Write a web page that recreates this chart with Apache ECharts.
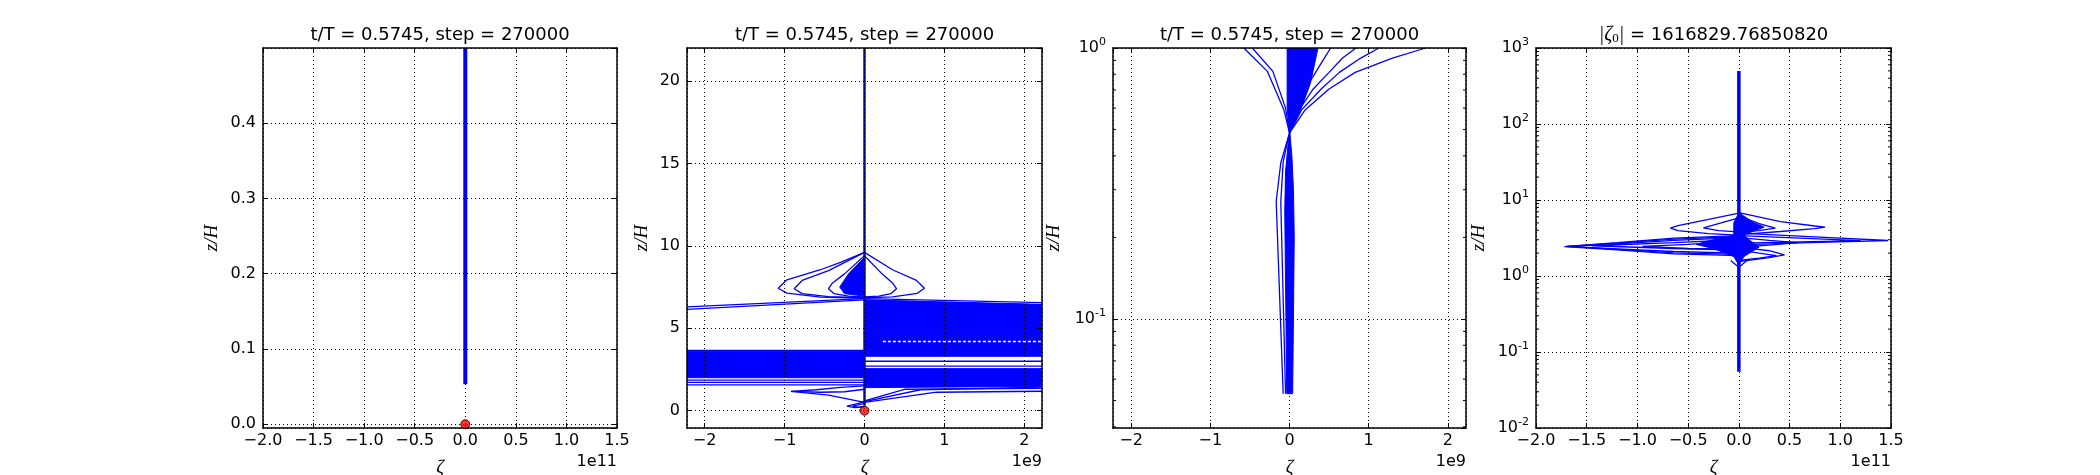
<!DOCTYPE html>
<html>
<head>
<meta charset="utf-8">
<title>zeta profiles</title>
<style>
  html, body { margin: 0; padding: 0; background: #fff; }
  #chart { width: 2100px; height: 475px; }
</style>
</head>
<body>
<div id="chart"></div>
<script src="https://cdn.jsdelivr.net/npm/echarts@6/dist/echarts.min.js"></script>
<script>
// texts
const stepTitle = 't/T = 0.5745, step = 270000';
const zetaTitle = '{m||ζ}{s|0}{m||} = 1616829.76850820';
const titles = [stepTitle, stepTitle, stepTitle, zetaTitle];
const offsetTexts = ['1e11', '1e9', '1e9', '1e11'];

// axis ranges (x in units of the offset text)
const p1XRange = [-2.0, 1.5], p1YRange = [-0.005, 0.5];
const p2XRange = [-2.22, 2.22], p2YRange = [-1.05, 22];
const p3XRange = [-2.23, 2.23], p3YRange = [0.0396, 1];
const p4XRange = [-2.0, 1.5], p4YRange = [0.01, 1000];

// minor ticks on the log axes
const minorMantissas = [2, 3, 4, 5, 6, 7, 8, 9];
const p3MinorDecades = [-2, -1];
const p4MinorDecades = [-2, -1, 0, 1, 2];

// panel 1
const p1Thick = [[[0, 0.053], [0, 0.5]]];
const p1Dot = [[0, 0]];

// panel 2
const p2Thick = [[[0, 0.3], [0, 22]]];
const p2Thin = [
  [[0, 9.6], [-0.3, 9.0], [-0.55, 8.55], [-0.97, 7.94], [-1.08, 7.43], [-0.97, 7.13], [-0.55, 6.89], [0, 6.82]],
  [[0, 9.6], [-0.45, 8.5], [-0.78, 7.9], [-0.88, 7.4], [-0.78, 7.1], [-0.45, 6.92], [0, 6.85]],
  [[0, 9.4], [-0.25, 8.3], [-0.4, 7.75], [-0.45, 7.4], [-0.38, 7.1], [-0.2, 6.95], [0, 6.9]],
  [[0, 9.4], [0.22, 8.3], [0.35, 7.75], [0.4, 7.4], [0.33, 7.1], [0.18, 6.95], [0, 6.9]],
  [[0, 9.6], [0.35, 8.55], [0.65, 7.9], [0.75, 7.43], [0.66, 7.12], [0.35, 6.9], [0, 6.85]],
  [[-2.22, 6.15], [0, 6.72]],
  [[-2.22, 6.3], [0, 6.8]],
  [[0, 6.8], [2.22, 6.55]],
  [[0, 6.72], [2.22, 6.42]],
  [[0, 3.0], [2.22, 3.0]],
  [[0, 2.7], [2.22, 2.7]],
  [[-2.22, 3.66], [0, 3.66]],
  [[-2.22, 1.85], [0, 1.85]],
  [[-2.22, 1.72], [0, 1.72]],
  [[-2.22, 1.56], [0, 1.56]],
  [[0, 0.55], [0.7, 1.27], [2.22, 1.43]],
  [[0, 0.5], [0.9, 1.12], [2.22, 1.18]],
  [[0, 0.6], [0.5, 1.3], [2.22, 1.35]],
  [[0, 0.5], [-0.45, 0.95], [-0.92, 1.17], [-0.6, 1.27], [-0.3, 1.42], [0, 1.5]],
  [[-0.92, 1.17], [-0.55, 1.12], [-0.25, 1.15], [0, 1.3]],
  [[0, 0.55], [-0.1, 0.42], [-0.22, 0.28], [-0.12, 0.18], [0, 0.25]],
  [[0, 0.45], [-0.08, 0.35], [-0.15, 0.27], [-0.07, 0.2], [0, 0.25]]
];
const p2Fills = [
  [[0, 9.3], [-0.2, 8.3], [-0.31, 7.5], [-0.25, 7.1], [0, 6.95]],
  [[0, 6.7], [2.22, 6.45], [2.22, 3.3], [0, 3.3]],
  [[0, 2.55], [2.22, 2.55], [2.22, 1.47], [0, 1.4]],
  [[-2.22, 3.6], [0, 3.6], [0, 2.0], [-2.22, 2.0]]
];
const p2White = [[0.23, 4.2], [2.22, 4.2]];
const p2Dot = [[0, 0]];

// panel 3
const p3Thin = [
  [[0, 0.486], [-0.11, 0.377], [-0.168, 0.272], [-0.08, 0.053]],
  [[0, 0.486], [-0.08, 0.38], [-0.11, 0.27], [-0.05, 0.053]],
  [[0, 0.486], [-0.07, 0.59], [-0.28, 0.82], [-0.577, 1]],
  [[0, 0.486], [-0.05, 0.6], [-0.21, 0.82], [-0.47, 1]],
  [[0, 0.486], [0.2, 0.592], [0.5, 0.706], [0.83, 0.813], [1.3, 0.918], [1.72, 1]],
  [[0, 0.486], [0.15, 0.59], [0.4, 0.706], [0.63, 0.813], [0.9, 0.918], [1.13, 1]],
  [[0, 0.486], [0.12, 0.59], [0.3, 0.706], [0.5, 0.813], [0.67, 0.918], [0.84, 1]],
  [[0, 0.486], [0.08, 0.59], [0.2, 0.706], [0.33, 0.813], [0.44, 0.918], [0.52, 1]]
];
const p3Fills = [
  [[-0.035, 0.053], [0.04, 0.053], [0.06, 0.2], [0.05, 0.3], [0.03, 0.4], [0.005, 0.486],
   [-0.015, 0.45], [-0.05, 0.35], [-0.06, 0.25], [-0.045, 0.1]],
  [[0, 0.486], [0.14, 0.59], [0.265, 0.743], [0.36, 1], [-0.03, 1], [-0.03, 0.6]]
];

// panel 4
const p4Thick = [[[0, 0.055], [0, 500]]];
const p4Thin = [
  [[0, 3.4], [-0.64, 3.15], [-1.2, 2.75], [-1.72, 2.44], [-1.2, 2.2], [-0.64, 1.95], [0, 1.85]],
  [[0, 3.3], [-0.64, 3.05], [-1.2, 2.7], [-1.7, 2.45], [-1.2, 2.24], [-0.64, 2.02], [0, 1.92]],
  [[0, 3.2], [-0.64, 2.95], [-1.2, 2.65], [-1.68, 2.45], [-1.2, 2.28], [-0.64, 2.1], [0, 2.0]],
  [[0, 3.0], [-0.64, 2.75], [-1.45, 2.5], [-0.64, 2.3], [0, 2.2]],
  [[0, 2.9], [-0.5, 2.6], [-0.95, 2.45], [-0.5, 2.3], [0, 2.25]],
  [[0, 6.7], [-0.31, 5.5], [-0.6, 4.6], [-0.675, 4.27], [-0.6, 3.95], [-0.3, 3.6], [0, 3.45]],
  [[0, 5.8], [-0.2, 4.9], [-0.35, 4.3], [-0.2, 3.95], [0, 3.8]],
  [[0, 6.8], [0.41, 5.2], [0.75, 4.55], [0.85, 4.4], [0.75, 4.2], [0.41, 3.85], [0, 3.5]],
  [[0, 6.2], [0.2, 4.9], [0.36, 4.27], [0.2, 3.95], [0, 3.8]],
  [[0, 3.66], [0.7, 3.3], [1.47, 2.93], [0.7, 2.75], [0, 2.57]],
  [[0, 3.4], [0.6, 3.15], [1.2, 2.92], [0.6, 2.8], [0, 2.7]],
  [[0, 3.2], [0.3, 2.95], [0.58, 2.75], [0.3, 2.55], [0, 2.4]],
  [[0, 2.4], [0.3, 2.15], [0.45, 1.9], [0.3, 1.75], [0, 1.55]],
  [[0, 2.2], [0.2, 2.0], [0.37, 1.85], [0.2, 1.72], [0, 1.6]],
  [[-0.08, 1.6], [0, 1.3], [0.08, 1.6]]
];
const p4Fills = [
  [[0, 6.8], [0.15, 5.0], [0.25, 4.4], [0.15, 3.9], [0.05, 3.5], [0.1, 3.0], [0.2, 2.4], [0.05, 1.8],
   [0, 1.4], [-0.05, 1.8], [-0.25, 2.3], [-0.42, 2.6], [-0.3, 2.9], [-0.05, 3.4], [-0.05, 5.0]]
];

const BLUE = '#0000ff';
const FONT = 'DejaVu Sans';
const MATH = 'Liberation Serif';

function minus(s) { return s.replace('-', '\u2212'); }
function fmtFixed(d) { return v => minus((Math.abs(v) < 1e-9 ? 0 : v).toFixed(d)); }
function fmtLog(v) { return '10{sup|' + Math.round(Math.log10(v)) + '}'; }
function minorTicks(decades) {
  const out = [];
  decades.forEach(e => minorMantissas.forEach(m => out.push(m * Math.pow(10, e))));
  return out;
}

const boxes = [[263, 48, 354, 380], [687, 48, 355, 380], [1113, 48, 353, 380], [1536, 48, 355, 380]];
const panels = [
  { x: p1XRange, xInt: 0.5, xFmt: fmtFixed(1), xEnds: [true, true], y: p1YRange, yFmt: fmtFixed(1), yEnds: [false, false],
    log: false, thick: p1Thick, thickW: 4, thin: [], fills: [], dots: p1Dot, yGap: 42 },
  { x: p2XRange, xFmt: fmtFixed(0), xEnds: [false, false], y: p2YRange, yFmt: fmtFixed(0), yEnds: [false, false],
    log: false, thick: p2Thick, thickW: 2.5, thin: p2Thin, fills: p2Fills, dots: p2Dot, white: p2White, yGap: 36 },
  { x: p3XRange, xFmt: fmtFixed(0), xEnds: [false, false], y: p3YRange, yFmt: fmtLog, yEnds: [false, true],
    log: true, minor: minorTicks(p3MinorDecades).filter(v => v > p3YRange[0] && v < p3YRange[1]),
    thick: [], thin: p3Thin, fills: p3Fills, dots: [], yGap: 50 },
  { x: p4XRange, xInt: 0.5, xFmt: fmtFixed(1), xEnds: [true, true], y: p4YRange, yFmt: fmtLog, yEnds: [true, true],
    log: true, minor: minorTicks(p4MinorDecades), thick: p4Thick, thickW: 3.5, thin: p4Thin, fills: p4Fills, dots: [], yGap: 48 }
];

const grid = [], xAxis = [], yAxis = [], series = [], graphic = [];
const axLine = { show: true, onZero: false, lineStyle: { color: '#000', width: 1.5 } };
const axTick = { show: true, inside: true, length: 5, lineStyle: { color: '#000', width: 1 } };
const split = { show: true, lineStyle: { color: '#000', width: 1, type: [1, 3] } };
const lab = { color: '#000', fontFamily: FONT, fontSize: 16 };
const labLog = Object.assign({}, lab, {
  rich: { sup: { fontFamily: FONT, fontSize: 11, color: '#000', padding: [0, 0, 11, 0] } }
});
const mathName = { fontFamily: MATH, fontStyle: 'italic', fontSize: 19, color: '#000' };

panels.forEach((p, i) => {
  const [l, t, w, h] = boxes[i];
  grid.push({ left: l, top: t, width: w, height: h, outerBoundsMode: 'none', containLabel: false });

  const xBase = { gridIndex: i, type: 'value', min: p.x[0], max: p.x[1], z: 5, axisLine: axLine, axisTick: axTick };
  if (p.xInt) xBase.interval = p.xInt;
  xAxis.push(Object.assign({}, xBase, {
    position: 'bottom', splitLine: split,
    axisLabel: Object.assign({ margin: 5, formatter: p.xFmt, showMinLabel: p.xEnds[0], showMaxLabel: p.xEnds[1] }, lab),
    name: 'ζ', nameLocation: 'middle', nameGap: 30, nameMoveOverlap: false, nameTextStyle: mathName
  }));
  xAxis.push(Object.assign({}, xBase, { position: 'top', splitLine: { show: false }, axisLabel: { show: false } }));

  const yBase = { gridIndex: i, type: p.log ? 'log' : 'value', min: p.y[0], max: p.y[1], z: 5, axisLine: axLine, axisTick: axTick };
  if (p.log) yBase.logBase = 10;
  yAxis.push(Object.assign({}, yBase, {
    position: 'left', splitLine: split,
    axisLabel: Object.assign({ margin: 7, formatter: p.yFmt, showMinLabel: p.yEnds[0], showMaxLabel: p.yEnds[1] }, p.log ? labLog : lab),
    name: 'z/H', nameLocation: 'middle', nameRotate: 90, nameGap: p.yGap, nameMoveOverlap: false, nameTextStyle: mathName
  }));
  yAxis.push(Object.assign({}, yBase, { position: 'right', splitLine: { show: false }, axisLabel: { show: false } }));

  const ax = { xAxisIndex: 2 * i, yAxisIndex: 2 * i };
  p.fills.forEach(poly => series.push(Object.assign({
    type: 'custom', coordinateSystem: 'cartesian2d', data: [poly[0]], clip: true, silent: true, z: 2,
    renderItem: (params, api) => ({
      type: 'polygon', shape: { points: poly.map(q => api.coord(q)) },
      style: { fill: BLUE, stroke: BLUE, lineWidth: 1 }
    })
  }, ax)));
  p.thin.forEach(d => series.push(Object.assign({
    type: 'line', data: d, symbol: 'none', clip: true, silent: true, z: 3,
    lineStyle: { color: BLUE, width: 1.3 }
  }, ax)));
  p.thick.forEach(d => series.push(Object.assign({
    type: 'line', data: d, symbol: 'none', clip: true, silent: true, z: 3,
    lineStyle: { color: BLUE, width: p.thickW }
  }, ax)));
  if (p.white) series.push(Object.assign({
    type: 'line', data: p.white, symbol: 'none', clip: true, silent: true, z: 4,
    lineStyle: { color: '#fff', width: 1.5, type: [3, 2] }
  }, ax));
  if (p.dots.length) series.push(Object.assign({
    type: 'scatter', data: p.dots, symbol: 'circle', symbolSize: 9, clip: false, silent: true, z: 10,
    itemStyle: { color: '#ff0000', borderColor: '#000', borderWidth: 1 }
  }, ax));
  if (p.minor) series.push(Object.assign({
    type: 'custom', coordinateSystem: 'cartesian2d', data: p.minor.map(v => [0, v]), silent: true, z: 6,
    renderItem: (params, api) => {
      const cs = params.coordSys;
      const y = api.coord([api.value(0), api.value(1)])[1];
      return { type: 'group', children: [
        { type: 'line', shape: { x1: cs.x, y1: y, x2: cs.x + 3, y2: y }, style: { stroke: '#000', lineWidth: 1 } },
        { type: 'line', shape: { x1: cs.x + cs.width - 3, y1: y, x2: cs.x + cs.width, y2: y }, style: { stroke: '#000', lineWidth: 1 } }
      ] };
    }
  }, ax));

  graphic.push({
    type: 'text', x: l + w / 2, y: 35, z: 20,
    style: {
      text: titles[i], fill: '#000', font: '18px "DejaVu Sans"', align: 'center', verticalAlign: 'middle',
      rich: {
        m: { font: 'italic 20px "Liberation Serif"', fill: '#000' },
        s: { font: '13px "Liberation Serif"', fill: '#000', padding: [8, 0, 0, 0] }
      }
    }
  });
  graphic.push({
    type: 'text', x: l + w, y: 462, z: 20,
    style: { text: offsetTexts[i], fill: '#000', font: '16px "DejaVu Sans"', align: 'right', verticalAlign: 'middle' }
  });
});

const chart = echarts.init(document.getElementById('chart'));
chart.setOption({
  animation: false,
  backgroundColor: '#fff',
  grid, xAxis, yAxis, series, graphic
});
</script>
</body>
</html>
